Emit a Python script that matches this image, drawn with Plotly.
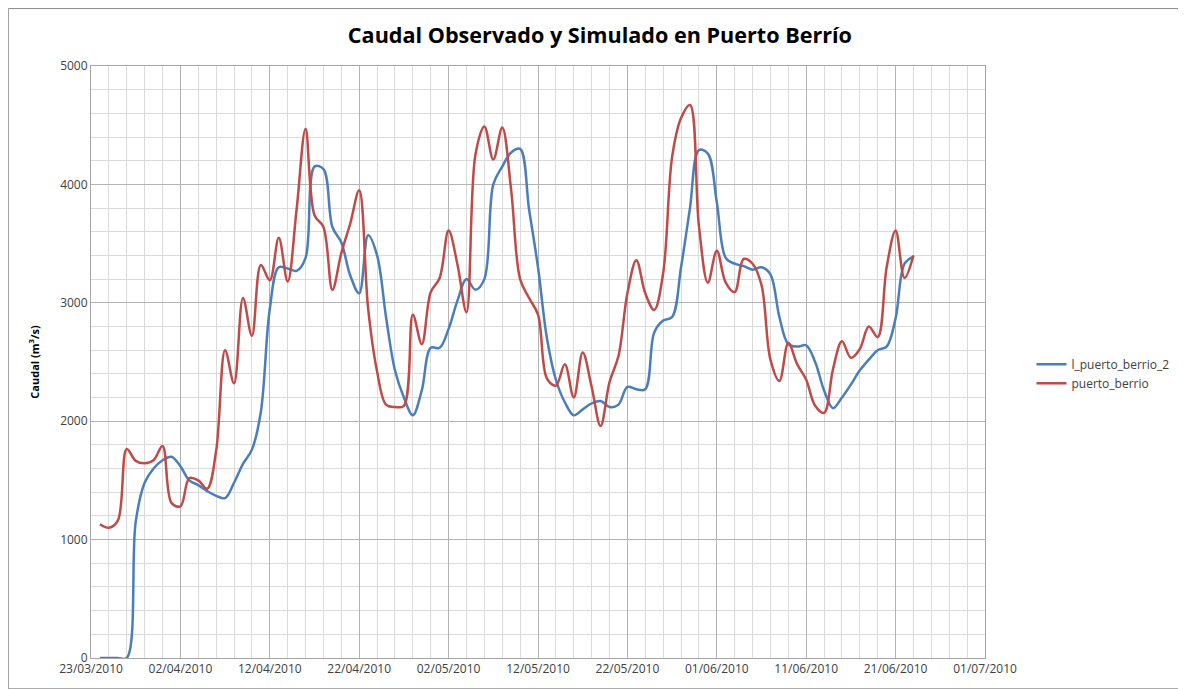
import pandas as pd
import plotly.graph_objects as go

# daily discharge, 24/03/2010 .. 23/06/2010
fechas = pd.date_range("2010-03-24", periods=92, freq="D")

# simulated series
l_puerto_berrio_2 = [
    0, 0, 0, 0, 1150, 1480, 1600, 1670, 1700, 1620,
    1500, 1460, 1410, 1370, 1350, 1480, 1640, 1760, 2080, 2950,
    3300, 3290, 3270, 3380, 4150, 4130, 3640, 3510, 3230, 3080,
    3570, 3400, 2880, 2430, 2200, 2050, 2260, 2620, 2620, 2780,
    3020, 3200, 3110, 3200, 4000, 4150, 4270, 4300, 3790, 3300,
    2700, 2350, 2160, 2050, 2100, 2150, 2170, 2120, 2140, 2290,
    2270, 2270, 2750, 2850, 2880, 3300, 3800, 4290, 4260, 3850,
    3380, 3330, 3310, 3280, 3300, 3240, 2880, 2650, 2630, 2640,
    2500, 2260, 2110, 2200, 2310, 2430, 2520, 2600, 2630, 2870,
    3330, 3390,
]

# observed series
puerto_berrio = [
    1130, 1100, 1160, 1765, 1665, 1645, 1670, 1790, 1310, 1280,
    1520, 1500, 1430, 1750, 2600, 2320, 3040, 2720, 3320, 3190,
    3550, 3180, 3790, 4470, 3740, 3640, 3110, 3420, 3670, 3950,
    2950, 2420, 2140, 2120, 2130, 2900, 2650, 3090, 3210, 3610,
    3320, 2920, 4250, 4490, 4210, 4480, 3950, 3200, 3040, 2900,
    2360, 2300, 2480, 2200, 2580, 2290, 1960, 2330, 2550, 3080,
    3360, 3080, 2940, 3250, 4230, 4560, 4670, 3650, 3170, 3440,
    3170, 3090, 3370, 3330, 3150, 2520, 2340, 2660, 2480, 2350,
    2130, 2070, 2440, 2675, 2535, 2610, 2800, 2710, 3300, 3610,
    3210, 3400,
]

# axis ticks: labelled every 10 days, grid every 2 days
x_ticks = pd.date_range("2010-03-23", "2010-07-01", freq="10D")
x_minor = pd.date_range("2010-03-23", "2010-07-01", freq="2D")

font_family = "Open Sans, Liberation Sans, sans-serif"

fig = go.Figure()
fig.add_trace(go.Scatter(
    x=fechas, y=l_puerto_berrio_2, name="l_puerto_berrio_2", mode="lines",
    line=dict(color="#4A7EBB", width=2.5, shape="spline", smoothing=1.0)))
fig.add_trace(go.Scatter(
    x=fechas, y=puerto_berrio, name="puerto_berrio", mode="lines",
    line=dict(color="#BE4B48", width=2.5, shape="spline", smoothing=1.0)))

# the page body adds an 8px margin, so the figure is a little smaller
fig.update_layout(
    width=1178,
    height=681,
    margin=dict(l=83, r=198, t=58, b=31),
    paper_bgcolor="white",
    plot_bgcolor="white",
    font=dict(family=font_family, size=12, color="#404040"),
    title=dict(text="<b>Caudal Observado y Simulado en Puerto Berrío</b>",
               x=0.5025, xanchor="center", y=0.960, yanchor="middle",
               font=dict(size=21.6, color="#000000")),
    legend=dict(x=1.052, y=0.48, xanchor="left", yanchor="middle",
                font=dict(size=12, color="#404040"), tracegroupgap=4),
    showlegend=True,
)

fig.update_xaxes(
    type="date",
    range=["2010-03-23", "2010-07-01"],
    tickvals=x_ticks,
    ticktext=[d.strftime("%d/%m/%Y") for d in x_ticks],
    showgrid=True,
    gridcolor="#b3b3b3",
    gridwidth=1,
    minor=dict(tickvals=x_minor, showgrid=True, gridcolor="#dadada", gridwidth=1),
    showline=True,
    linecolor="#a6a6a6",
    mirror=True,
    ticks="",
    tickfont=dict(size=12, color="#404040"),
    zeroline=False,
    automargin=False,
)
fig.update_yaxes(
    range=[0, 5000],
    dtick=1000,
    showgrid=True,
    gridcolor="#b3b3b3",
    gridwidth=1,
    minor=dict(dtick=200, showgrid=True, gridcolor="#dadada", gridwidth=1),
    showline=True,
    linecolor="#a6a6a6",
    mirror=True,
    ticks="",
    tickfont=dict(size=12, color="#404040"),
    title=dict(text="<b>Caudal (m<sup>3</sup>/s)</b>", standoff=18,
               font=dict(size=11, color="#000000")),
    zeroline=False,
    automargin=False,
)

# chart area border
fig.add_shape(type="rect", xref="paper", yref="paper",
              x0=-0.0925, x1=1.2196, y0=-0.052, y1=1.097,
              line=dict(color="#8c8c8c", width=1), layer="below")

fig.write_html("out.html")
